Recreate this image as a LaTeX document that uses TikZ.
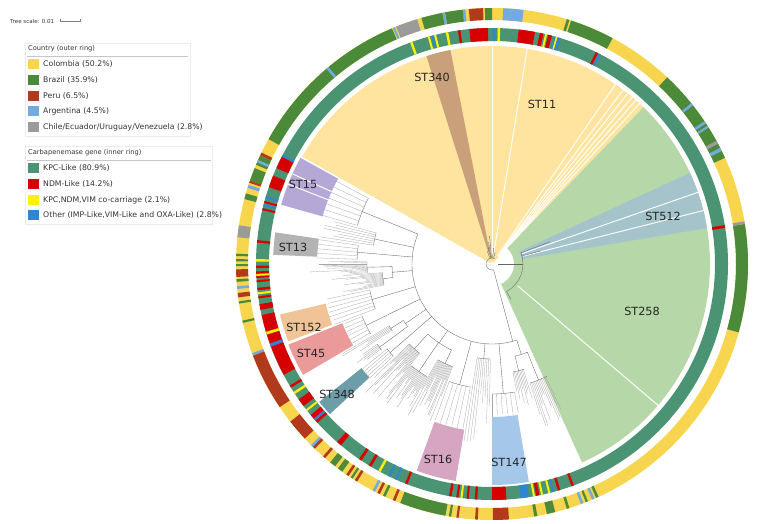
\documentclass[tikz,border=0pt]{standalone}
\usepackage{fontspec}
\setmainfont{DejaVu Sans}
\usetikzlibrary{calc}
\usetikzlibrary{positioning}

% ring colours
\definecolor{colcol}{HTML}{F7D54F}
\definecolor{brzcol}{HTML}{4A8A39}
\definecolor{percol}{HTML}{B23A1C}
\definecolor{argcol}{HTML}{73AADF}
\definecolor{grycol}{HTML}{9B9B9B}
\definecolor{kpccol}{HTML}{4B9473}
\definecolor{ndmcol}{HTML}{D60000}
\definecolor{mixcol}{HTML}{FFF200}
\definecolor{oxacol}{HTML}{2E86D1}
% clade colours
\definecolor{stelevenfill}{HTML}{FEE49E}
\definecolor{stthreefourfill}{HTML}{C9A07A}
\definecolor{sttwofivefill}{HTML}{B6D8A8}
\definecolor{stfiveonefill}{HTML}{A4C3CA}
\definecolor{stfifteenfill}{HTML}{B5A8D6}
\definecolor{stthirteenfill}{HTML}{B3B3B3}
\definecolor{stonefivefill}{HTML}{F0C497}
\definecolor{stfortyfill}{HTML}{EA9B99}
\definecolor{stthreethreefill}{HTML}{6C9DA8}
\definecolor{stsixteenfill}{HTML}{D6A5C1}
\definecolor{stonefourfill}{HTML}{A5C8EA}

% annular sector: inner r, outer r, start, end, colour
\newcommand{\ringseg}[5]{%
  \fill[#5] (#3:#1) arc[start angle=#3, end angle=#4, radius=#1]
    -- (#4:#2) arc[start angle=#4, end angle=#3, radius=#2] -- cycle;}

% inner node of the tree: start, end, base r, arc r
\newcommand{\treenode}[4]{%
  \pgfmathsetmacro{\fanmid}{(#1+#2)/2}%
  \draw[treeline] (\fanmid:#3) -- (\fanmid:#4);
  \draw[treeline] (#1:#4) arc[start angle=#1, end angle=#2, radius=#4];}

% fan of tips: start, end, base r, arc r, tip min, tip max, step
\newcommand{\treefan}[7]{%
  \treenode{#1}{#2}{#3}{#4}%
  \pgfmathsetmacro{\fannext}{#1+#7}%
  \foreach \ta in {#1,\fannext,...,#2}{%
    \pgfmathsetmacro{\tiplen}{#5+rnd*(#6-#5)}%
    \draw[tipline] (\ta:#4) -- (\ta:\tiplen);
  }}

\begin{document}
\begin{tikzpicture}[%
  x=0.03cm, y=0.03cm,
  treeline/.style={draw=gray!80!black, line width=0.3pt},
  tipline/.style={draw=gray!70, line width=0.25pt},
  sepline/.style={draw=white, line width=0.8pt},
  stlabel/.style={font=\fontsize{9.6}{11}\selectfont, text=black!85, inner sep=0pt},
  legtext/.style={anchor=west, inner sep=0pt, font=\fontsize{6.6}{7.5}\selectfont, text=black!80},
  legtitle/.style={anchor=west, inner sep=0pt, font=\fontsize{5.7}{6.5}\selectfont, text=black!80},
  swatch/.style={minimum size=0.32cm, inner sep=0pt},
]
  \useasboundingbox (0,0) rectangle (758,523);
  \pgfmathsetseed{11}

  \begin{scope}[shift={(492,259)}]
    % clade wedges
    \ringseg{2}{218}{46}{150.5}{stelevenfill}
    \ringseg{12}{218}{101}{107.5}{stthreefourfill}
    \ringseg{22}{218}{-65.6}{46}{sttwofivefill}
    \ringseg{30}{218}{9.5}{24.7}{stfiveonefill}
    \ringseg{176}{219}{151}{164.3}{stfifteenfill}
    \ringseg{175}{219}{171.7}{177.6}{stthirteenfill}
    \ringseg{171}{218}{193.4}{200.8}{stonefivefill}
    \ringseg{161}{219}{201.6}{210.4}{stfortyfill}
    \ringseg{167}{221}{218.6}{222.8}{stthreethreefill}
    \ringseg{168}{220}{250}{260.5}{stsixteenfill}
    \ringseg{153}{221}{270}{279.6}{stonefourfill}

    \foreach \a in {90,80.7,55.5,53,51.5,50,48.7,47.4}
      \draw[sepline] (\a:10) -- (\a:218);
    \foreach \a in {155.7,158.6}
      \draw[sepline] (\a:176) -- (\a:219);
    \foreach \a in {14.2,19.2}
      \draw[sepline] (\a:32) -- (\a:218);
    \draw[sepline] (-40.4:34) -- (-40.4:218);

    % outer ring: country
    \ringseg{244}{256}{0}{360}{colcol}
    \foreach \a/\b/\c in {24.5/46.8/brzcol, 38.3/38.9/argcol, 33.3/33.9/argcol,
        32.2/32.7/argcol, 28.0/28.8/grycol, 26.2/27.0/argcol,
        61.9/72.0/brzcol, 72.4/73.0/brzcol, 82.9/87.5/argcol,
        90.0/91.6/brzcol, 92.0/95.2/percol, 96.0/96.6/argcol, 96.6/100.6/brzcol,
        100.6/101.2/argcol, 101.2/106.0/brzcol, 107.0/112.0/grycol,
        112.3/112.8/argcol, 113.0/150.8/brzcol, 129.7/130.3/argcol,
        154.2/154.9/percol, 154.9/157.2/brzcol, 156.0/156.6/argcol,
        158.0/161.0/brzcol, 161.0/161.5/percol, 162.0/162.7/argcol,
        164.0/165.3/brzcol, 171.3/174.0/grycol,
        177.7/178.2/brzcol, 178.9/179.4/brzcol, 180.0/180.5/brzcol,
        181.2/182.9/percol, 183.4/184.0/brzcol, 185.0/185.6/argcol,
        186.5/187.5/percol, 188.4/188.9/brzcol, 192.8/193.3/brzcol,
        200.4/201.0/argcol, 201.0/214.0/percol, 218.0/223.0/percol,
        225.0/225.6/argcol, 225.6/226.2/percol, 228.7/229.3/percol,
        230.8/232.2/brzcol, 233.0/234.2/brzcol, 235.3/235.9/percol,
        236.5/237.0/brzcol, 237.6/238.2/percol, 242.2/242.8/argcol,
        243.4/244.0/percol, 244.8/245.4/brzcol, 247.2/247.8/percol,
        249.0/259.5/brzcol, 260.3/260.8/brzcol, 262.0/262.5/percol,
        266.2/266.8/percol, 270.2/273.8/percol, 279.5/280.2/brzcol,
        282.4/284.3/brzcol, 287.0/287.6/brzcol, 290.3/290.9/argcol,
        291.5/292.0/brzcol, 293.0/293.6/argcol, 294.0/294.6/brzcol,
        344.5/369.0/brzcol, 369.0/369.6/grycol}
      {\ringseg{244}{256}{\a}{\b}{\c}}

    % inner ring: carbapenemase gene
    \ringseg{223}{236}{0}{360}{kpccol}
    \foreach \a/\b/\c in {91.0/95.5/ndmcol, 97.7/98.3/ndmcol, 100.7/101.3/mixcol,
        103.7/104.2/mixcol, 104.4/104.9/oxacol, 105.3/105.8/mixcol,
        109.7/110.3/mixcol, 89.2/89.8/oxacol, 88.0/88.6/mixcol,
        79.5/83.5/ndmcol, 77.4/78.3/ndmcol, 76.5/77.0/mixcol, 75.3/76.2/ndmcol,
        73.2/74.6/oxacol, 73.9/74.3/mixcol, 63.3/63.9/ndmcol, 62.6/63.1/oxacol,
        8.8/9.5/ndmcol, 152.4/153.0/oxacol, 153.0/156.0/ndmcol,
        158.0/161.0/ndmcol, 163.2/163.8/oxacol, 164.5/165.0/ndmcol,
        165.2/165.7/oxacol, 166.3/166.8/ndmcol, 174.2/174.8/ndmcol,
        178.8/179.4/mixcol, 180.4/181.0/ndmcol, 181.8/183.4/ndmcol,
        182.4/182.9/mixcol, 183.9/184.4/ndmcol, 185.8/186.4/ndmcol,
        186.9/187.4/mixcol, 187.9/188.4/ndmcol, 189.8/191.2/ndmcol,
        192.5/208.0/ndmcol, 196.7/197.4/mixcol, 199.7/200.5/oxacol,
        211.0/211.6/ndmcol, 212.8/213.4/mixcol, 215.0/217.0/ndmcol,
        218.0/218.5/mixcol, 219.8/222.3/ndmcol, 221.0/221.6/oxacol,
        229.0/230.2/ndmcol, 235.7/236.4/ndmcol, 238.5/239.2/ndmcol,
        241.2/241.8/mixcol, 243.9/244.5/oxacol, 245.7/246.3/oxacol,
        248.4/249.0/ndmcol, 259.5/260.1/ndmcol, 261.3/261.8/ndmcol,
        262.3/262.8/mixcol, 263.8/264.3/ndmcol, 265.8/266.4/ndmcol,
        270.0/273.5/ndmcol, 277.0/279.0/oxacol, 280.0/280.5/mixcol,
        280.8/281.6/ndmcol, 282.0/282.5/mixcol, 283.8/284.3/mixcol,
        284.8/285.3/oxacol, 286.2/286.8/ndmcol, 289.7/290.3/ndmcol}
      {\ringseg{223}{236}{\a}{\b}{\c}}

    % tree
    \draw[treeline] (60:6) arc[start angle=60, end angle=285, radius=6];
    \draw[treeline] (285:6) -- (285:80);
    \draw[treeline] (158:80) arc[start angle=158, end angle=288.5, radius=80];
    \draw[treeline] (0:6) -- (0:31);
    \draw[treeline] (-62:31) arc[start angle=-62, end angle=21, radius=31];
    \draw[treeline] (21:31) -- (21:62);
    \draw[treeline] (15:31) -- (15:50);
    \draw[treeline] (-62:31) -- (-62:40);
    \foreach \a/\r in {95/28, 99/22, 103/18, 110/14, 84/16, 75/12}
      \draw[treeline] (\a:6) -- (\a:\r);
    \treefan{152}{164}{80}{140}{175}{178}{2}
    \treefan{165}{171}{80}{120}{150}{185}{1}
    \treefan{172}{178}{80}{135}{174}{176}{1.5}
    \treenode{181.5}{188}{80}{100}
    \treefan{179}{184}{100}{125}{140}{185}{0.5}
    \treefan{184.5}{191}{100}{110}{120}{170}{0.5}
    \treefan{192}{201}{80}{125}{168}{172}{1.5}
    \treefan{202}{210}{80}{140}{158}{162}{1.5}
    \treenode{212.5}{216.5}{80}{105}
    \treefan{211}{214}{105}{120}{135}{185}{0.6}
    \treefan{215}{218}{105}{140}{150}{180}{0.6}
    \treefan{219}{223}{80}{135}{166}{168}{1}
    \treenode{227.5}{245}{80}{95}
    \treefan{224}{231}{95}{115}{130}{185}{0.5}
    \treefan{231.5}{240}{95}{130}{140}{180}{0.5}
    \treefan{240.5}{249}{95}{110}{125}{175}{0.5}
    \treefan{250}{260}{80}{125}{166}{168}{2}
    \treefan{261}{269}{80}{95}{130}{180}{1}
    \treefan{270}{280}{80}{130}{150}{153}{2}
    \treenode{284}{292}{80}{95}
    \treefan{281}{287}{95}{110}{125}{150}{0.7}
    \treefan{287.7}{296}{95}{125}{140}{178}{0.7}
  \end{scope}

  % clade labels
  \node[stlabel] (lbl340) at (432,446) {ST340};
  \node[stlabel] (lbl11) at (542,419) {ST11};
  \node[stlabel] (lbl15) at (303,339) {ST15};
  \node[stlabel] (lbl13) at (293,276) {ST13};
  \node[stlabel] (lbl152) at (304,196) {ST152};
  \node[stlabel] (lbl45) at (311,170) {ST45};
  \node[stlabel] (lbl348) at (337,129) {ST348};
  \node[stlabel] (lbl16) at (438,64) {ST16};
  \node[stlabel] (lbl147) at (509,61) {ST147};
  \node[stlabel] (lbl512) at (663,307) {ST512};
  \node[stlabel] (lbl258) at (642,212) {ST258};

  % tree scale
  \node[legtitle, font=\fontsize{4.7}{5.5}\selectfont] (scale) at (10,502) {Tree scale: 0.01};
  \draw[gray, line width=0.3pt] (60,502) -- (80,502);
  \draw[gray, line width=0.3pt] (60,500.5) -- (60,503.5) (80,500.5) -- (80,503.5);

  % legend: country
  \draw[gray!15, line width=0.4pt] (25,387) rectangle (190,480);
  \node[legtitle] (country) at (28,474) {Country (outer ring)};
  \draw[gray!45, line width=0.4pt] (27,467) -- (188,467);
  \foreach \y/\c/\t [count=\i] in {459/colcol/{Colombia (50.2\%)},
      443/brzcol/{Brazil (35.9\%)}, 427/percol/{Peru (6.5\%)},
      412/argcol/{Argentina (4.5\%)}, 396/grycol/{Chile/Ecuador/Uruguay/Venezuela (2.8\%)}}{
    \node[swatch, fill=\c] (csw\i) at (33.5,\y) {};
    \node[legtext] (ctx\i) at (43,\y) {\t};
  }

  % legend: gene
  \draw[gray!15, line width=0.4pt] (25,299) rectangle (212,377);
  \node[legtitle] (gene) at (28,370) {Carbapenemase gene (inner ring)};
  \draw[gray!45, line width=0.4pt] (27,363) -- (211,363);
  \foreach \y/\c/\t [count=\i] in {355/kpccol/{KPC-Like (80.9\%)},
      339/ndmcol/{NDM-Like (14.2\%)}, 323/mixcol/{KPC,NDM,VIM co-carriage (2.1\%)},
      308/oxacol/{Other (IMP-Like,VIM-Like and OXA-Like) (2.8\%)}}{
    \node[swatch, fill=\c] (gsw\i) at (33.5,\y) {};
    \node[legtext] (gtx\i) at (43,\y) {\t};
  }
\end{tikzpicture}
\end{document}
